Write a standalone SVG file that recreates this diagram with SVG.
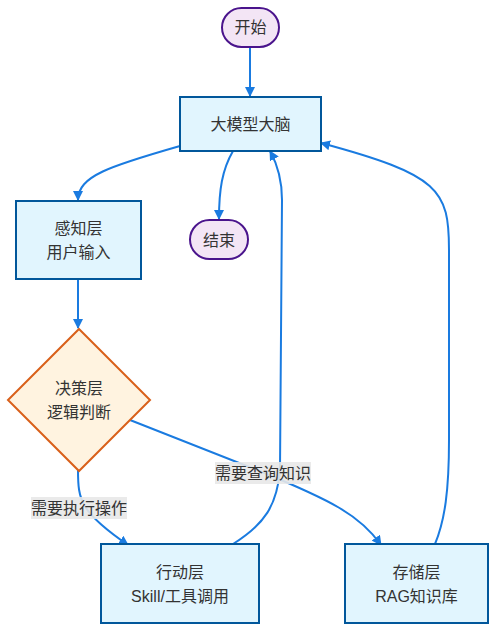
<svg xmlns="http://www.w3.org/2000/svg" width="496" height="631" viewBox="0 0 496 631">
<style>
text{font-family:"Liberation Sans","Noto Sans CJK SC",sans-serif;font-size:16px;fill:#333;text-anchor:middle;dominant-baseline:central}
.box{fill:#e1f5fe;stroke:#01579b;stroke-width:2}
.term{fill:#f3e5f5;stroke:#4a148c;stroke-width:2}
.dec{fill:#fff3e0;stroke:#d9601a;stroke-width:2}
.edge{fill:none;stroke:#1a7be0;stroke-width:2;marker-end:url(#arr)}
.lbl{fill:#e8e8e8;opacity:0.9}
</style>
<defs>
<marker id="arr" viewBox="0 0 10 10" refX="9" refY="5" markerWidth="5" markerHeight="5" orient="auto" markerUnits="strokeWidth">
<path d="M0,0L10,5L0,10z" fill="#1a7be0"/>
</marker>
</defs>
<rect width="496" height="631" fill="#fff"/>
<g id="edges">
<path class="edge" d="M250,47L250,96"/>
<path class="edge" d="M180,146C110,166 78,176 78,200"/>
<path class="edge" d="M233,151C222,170 219,190 219,219"/>
<path class="edge" d="M78,279L78,328"/>
<path class="edge" d="M78,470C78,500 80,512 128,545"/>
<path class="edge" d="M130,420L262,472C330,500 360,515 381,545"/>
<path class="edge" d="M233,544C265,524 277,505 280,470L282,200C282,175 275,160 270,151"/>
<path class="edge" d="M435,544C445,520 449,490 449,440L449,250C449,190 440,175 321,143"/>
</g>
<g id="n-start"><rect class="term" x="222" y="8" width="57" height="39" rx="19.5"/><text x="250.5" y="27.5">开始</text></g>
<g id="n-brain"><rect class="box" x="180" y="97" width="141" height="54"/><text x="250.5" y="124">大模型大脑</text></g>
<g id="n-perc"><rect class="box" x="16" y="201" width="125" height="78"/><text x="78.5" y="228">感知层</text><text x="78.5" y="252">用户输入</text></g>
<g id="n-end"><rect class="term" x="190" y="220" width="58" height="39" rx="19.5"/><text x="219" y="240">结束</text></g>
<g id="n-dec"><polygon class="dec" points="79,329 150,400 79,471 8,400"/><text x="79" y="388">决策层</text><text x="79" y="412">逻辑判断</text></g>
<g id="lbl-exec"><rect class="lbl" x="31" y="497" width="96" height="22"/><text x="79" y="508">需要执行操作</text></g>
<g id="lbl-query"><rect class="lbl" x="215" y="462" width="96" height="22"/><text x="263" y="473">需要查询知识</text></g>
<g id="n-act"><rect class="box" x="101" y="544" width="158" height="79"/><text x="180" y="572">行动层</text><text x="180" y="596">Skill/工具调用</text></g>
<g id="n-store"><rect class="box" x="345" y="544" width="143" height="79"/><text x="416.5" y="572">存储层</text><text x="416.5" y="596">RAG知识库</text></g>
</svg>
